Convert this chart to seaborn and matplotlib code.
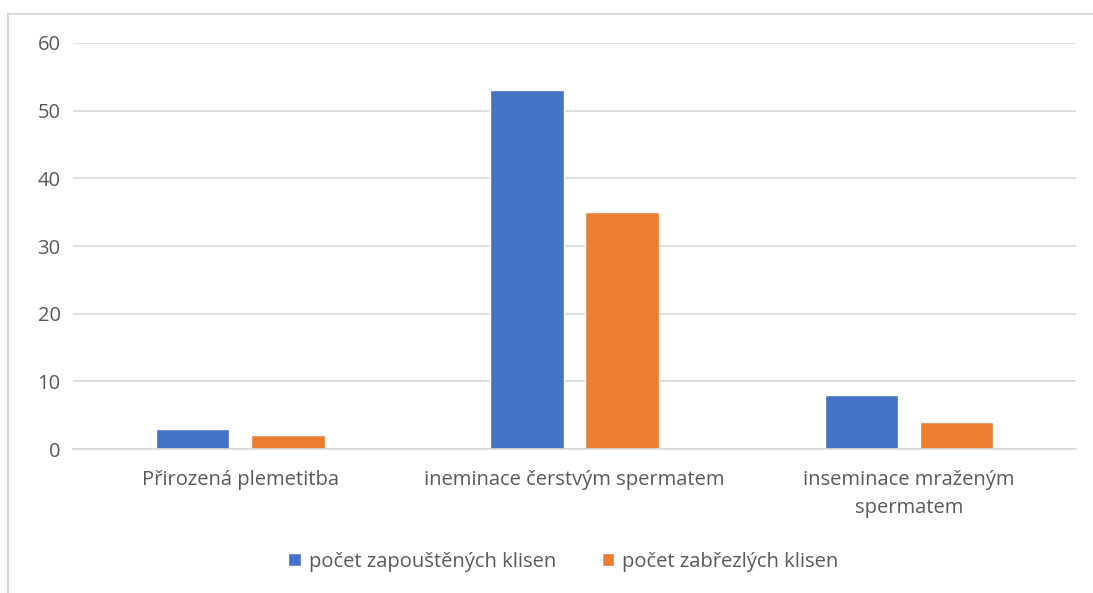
import pandas as pd
import matplotlib
matplotlib.use("Agg")
import matplotlib.pyplot as plt
import seaborn as sns
from matplotlib.patches import Rectangle

categories = ["Přirozená plemetitba", "ineminace čerstvým spermatem", "inseminace mraženým\nspermatem"]
series_names = ["počet zapouštěných klisen", "počet zabřezlých klisen"]
zapoustene = [3, 53, 8]
zabrezle = [2, 35, 4]
y_ticks = [0, 10, 20, 30, 40, 50, 60]

df = pd.DataFrame({
    "kategorie": categories * 2,
    "serie": [series_names[0]] * 3 + [series_names[1]] * 3,
    "hodnota": zapoustene + zabrezle,
})

sns.set_style("white")
plt.rcParams['font.family'] = ['Open Sans', 'DejaVu Sans']

fig = plt.figure(figsize=(10.93, 5.93), dpi=100)
ax = fig.add_axes([0.0668, 0.2428, 0.9177, 0.6847])

palette = {series_names[0]: "#4472C4", series_names[1]: "#ED7D31"}
sns.barplot(data=df, x="kategorie", y="hodnota", hue="serie", palette=palette,
            width=0.57, gap=0.23, saturation=1, ax=ax, legend=True)

ax.set_ylim(0, 60)
ax.set_yticks(y_ticks)
ax.set_xlim(-0.5, 2.5)
ax.yaxis.grid(True, color="#D9D9D9", linewidth=1.2)
ax.set_axisbelow(True)
for s in ["top", "right", "left"]:
    ax.spines[s].set_visible(False)
ax.spines["bottom"].set_color("#D9D9D9")
ax.spines["bottom"].set_linewidth(1.2)
ax.set_xlabel("")
ax.set_ylabel("")
ax.tick_params(axis="both", length=0, labelsize=14.5, labelcolor="#595959")
ax.tick_params(axis="y", pad=9)
ax.tick_params(axis="x", pad=15)
for lbl in ax.get_xticklabels():
    lbl.set_linespacing(1.55)

ax.legend(loc="center", bbox_to_anchor=(0.489, -0.278), ncol=2, frameon=False,
          fontsize=14.5, labelcolor="#595959", handlelength=0.6, handleheight=0.6,
          handletextpad=0.4, columnspacing=2.3)

# chart frame (Excel-like border, partially cropped)
fig.patches.append(Rectangle((8 / 1093, -0.1), 1.5, 1 - 14 / 593 + 0.1,
                             transform=fig.transFigure, fill=False,
                             edgecolor="#D9D9D9", linewidth=1.5))

fig.savefig("out.png", dpi=100)
